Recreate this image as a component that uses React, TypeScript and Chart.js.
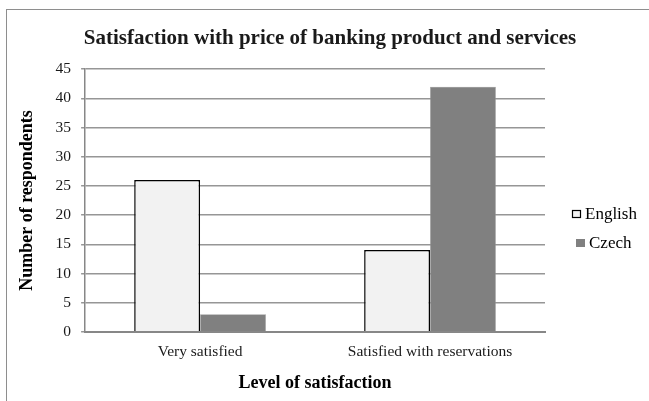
import React, { useEffect, useRef } from "react";
import { Chart, registerables, Plugin } from "chart.js";

Chart.register(...registerables);

const categories = ["Very satisfied", "Satisfied with reservations"];
const englishValues = [26, 14];
const czechValues = [3, 42];
const seriesNames = ["English", "Czech"];
const yMin = 0;
const yMax = 45;
const yStep = 5;

const SERIF = "'Liberation Serif', 'Times New Roman', serif";
const LEGEND_SPACE = 98;

// Legend drawn beside the plot, each entry centred on a common column.
const sideLegend: Plugin<"bar"> = {
  id: "sideLegend",
  afterDraw(chart) {
    const { ctx, chartArea } = chart;
    const fontSize = 17;
    const box = 9;
    const gap = 4;
    const rowGap = 29;
    const centreX = chartArea.right + 59;
    const midY = (chartArea.top + chartArea.bottom) / 2 + 28;
    const items = chart.data.datasets;
    const startY = midY - ((items.length - 1) * rowGap) / 2;
    ctx.save();
    ctx.font = `${fontSize}px ${SERIF}`;
    ctx.textBaseline = "middle";
    ctx.textAlign = "left";
    items.forEach((ds, i) => {
      const label = String(ds.label ?? "");
      const tw = ctx.measureText(label).width;
      const total = box + gap + tw;
      const x0 = Math.round(centreX - total / 2);
      const y = startY + i * rowGap;
      const bw = Number(ds.borderWidth ?? 0);
      ctx.fillStyle = String(ds.backgroundColor);
      ctx.fillRect(x0, Math.round(y - box / 2), box, box - 1);
      if (bw >= 1) {
        ctx.strokeStyle = String(ds.borderColor);
        ctx.lineWidth = 1.2;
        ctx.strokeRect(x0 + 0.5, Math.round(y - box / 2) + 0.5, box - 1, box - 2);
      }
      ctx.fillStyle = "#000000";
      ctx.fillText(label, x0 + box + gap, y + 1);
    });
    ctx.restore();
  },
};

export default function App() {
  const canvasRef = useRef<HTMLCanvasElement | null>(null);

  useEffect(() => {
    const canvas = canvasRef.current;
    if (!canvas) return;
    const chart = new Chart(canvas, {
      type: "bar",
      data: {
        labels: categories,
        datasets: [
          {
            label: seriesNames[0],
            data: englishValues,
            backgroundColor: "#f2f2f2",
            borderColor: "#000000",
            borderWidth: 1.5,
            barPercentage: 1,
            categoryPercentage: 0.573,
          },
          {
            label: seriesNames[1],
            data: czechValues,
            backgroundColor: "#808080",
            borderColor: "#9a9a9a",
            borderWidth: 0.5,
            barPercentage: 1,
            categoryPercentage: 0.573,
          },
        ],
      },
      options: {
        animation: false,
        responsive: false,
        maintainAspectRatio: false,
        layout: { padding: { left: 17, right: 6, top: 0, bottom: 7 } },
        plugins: {
          title: {
            display: true,
            text: "Satisfaction with price of banking product and services",
            color: "#1a1a1a",
            font: { family: SERIF, size: 21, weight: "bold" },
            padding: { top: 26, bottom: 18 },
          },
          legend: { display: false },
          tooltip: { enabled: false },
        },
        scales: {
          x: {
            grid: { display: false, drawTicks: false, tickLength: 0 },
            border: { display: true, color: "#878787", width: 2 },
            ticks: {
              color: "#1a1a1a",
              font: { family: SERIF, size: 15.5 },
              padding: 11,
            },
            title: {
              display: true,
              text: "Level of satisfaction",
              color: "#000000",
              font: { family: SERIF, size: 18, weight: "bold" },
              padding: { top: 0, bottom: 0 },
            },
          },
          y: {
            min: yMin,
            max: yMax,
            grid: { color: "#969696", lineWidth: 1.5, tickLength: 4 },
            border: { display: true, color: "#878787", width: 1.5 },
            ticks: {
              stepSize: yStep,
              color: "#1a1a1a",
              font: { family: SERIF, size: 15.5 },
              padding: 10,
            },
            title: {
              display: true,
              text: "Number of respondents",
              color: "#000000",
              font: { family: SERIF, size: 18, weight: "bold" },
              padding: { top: 0, bottom: 7 },
            },
          },
          // Empty right-hand axis that only reserves room for the legend.
          legendRoom: {
            type: "linear",
            position: "right",
            display: true,
            grid: { display: false, drawTicks: false },
            border: { display: false },
            ticks: { display: false },
            afterFit(scale: any) {
              scale.width = LEGEND_SPACE;
            },
          },
        },
      },
      plugins: [sideLegend],
    });
    return () => chart.destroy();
  }, []);

  return (
    <div
      style={{
        position: "absolute",
        left: 0,
        top: 0,
        width: 649,
        height: 401,
        overflow: "hidden",
        background: "#ffffff",
      }}
    >
      <div
        style={{
          position: "absolute",
          left: 6,
          top: 9,
          width: 700,
          height: 500,
          border: "1px solid #8e8e8e",
        }}
      />
      <canvas
        ref={canvasRef}
        width={649}
        height={401}
        style={{ position: "absolute", left: 0, top: 0, width: 649, height: 401 }}
      />
    </div>
  );
}
